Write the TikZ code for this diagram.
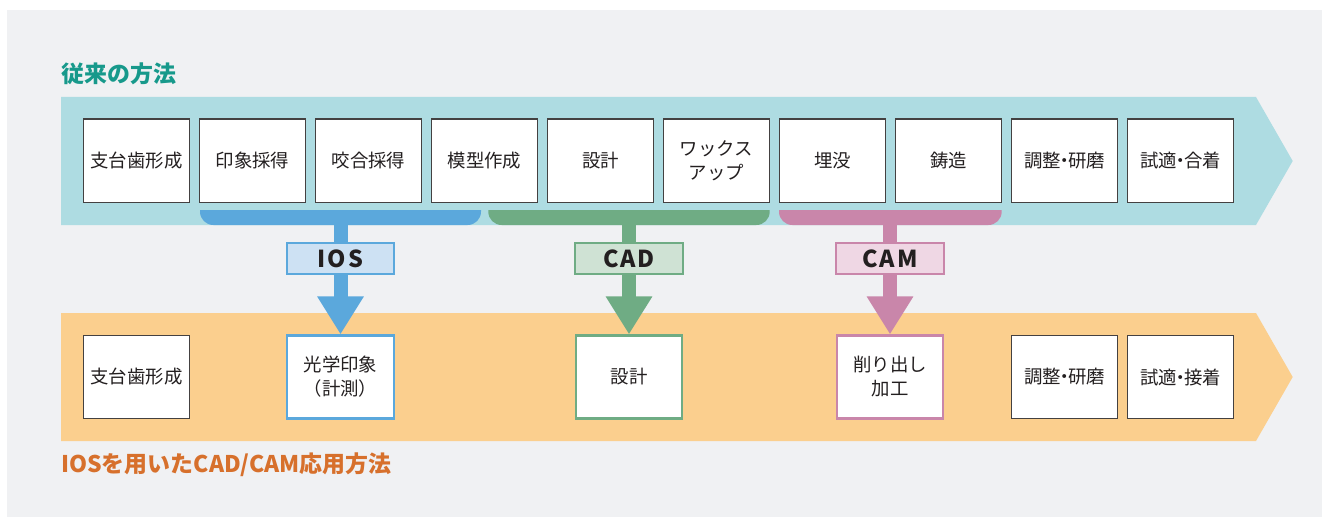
\documentclass[tikz,border=0pt]{standalone}
\usepackage{fontspec}
\newfontfamily\jp{Noto Sans CJK JP}
\newfontfamily\jplab[LetterSpace=8]{Noto Sans CJK JP}
\usetikzlibrary{arrows.meta}
\definecolor{panel}{HTML}{F0F1F3}
\definecolor{teal}{HTML}{AEDCE2}
\definecolor{orng}{HTML}{FBCF8E}
\definecolor{blu}{HTML}{5BA8DC}
\definecolor{blul}{HTML}{CDE1F3}
\definecolor{grn}{HTML}{6FAC84}
\definecolor{grnl}{HTML}{CFE2D4}
\definecolor{pnk}{HTML}{C986AA}
\definecolor{pnkl}{HTML}{EFD7E4}
\definecolor{ttl}{HTML}{17998B}
\definecolor{tto}{HTML}{D7702C}
\definecolor{txt}{HTML}{231F20}
\newcommand{\mdot}{\kern-0.3em・\kern-0.3em}
\tikzset{
  stepbox/.style={draw=txt!85, line width=1pt, fill=white, minimum width=79.9pt, minimum height=62.3pt, inner sep=0pt, align=center, font=\jp\fontsize{13.8}{18}\selectfont, text=txt},
  colbox/.style={stepbox, line width=1.6pt, draw=#1},
  labbox/.style={draw=#1, line width=1.3pt, minimum width=80.5pt, minimum height=23.7pt, inner sep=0pt, font=\jplab\bfseries\fontsize{17.5}{18}\selectfont, text=txt},
  stem/.style={draw=#1, line width=10.5pt},
  bigarrow/.style={draw=#1, line width=10.5pt, -{Triangle[length=28.5pt,width=33pt,fill=#1]}},
  ttitle/.style={anchor=west, inner sep=0pt, font=\jp\bfseries\fontsize{17.2}{18}\selectfont}
}
\begin{document}
\begin{tikzpicture}[x=0.75pt,y=-0.75pt]
\useasboundingbox (0,0) rectangle (1322,517);
\fill[white] (0,0) rectangle (1322,517);
\fill[panel] (7,10) rectangle (1322,517);
% bands
\fill[teal] (61,97) -- (1256,97) -- (1292.7,161) -- (1256,225) -- (61,225) -- cycle;
\fill[orng] (61,313) -- (1256,313) -- (1292.7,377) -- (1256,441) -- (61,441) -- cycle;
% titles
\node[ttitle, text=ttl] (t1) at (61,74) {従来の方法};
\node[ttitle, text=tto] (t2) at (61,465) {IOSを用いたCAD/CAM応用方法};
% bars
\begin{scope}
\clip (0,210) rectangle (1322,226);
\fill[blu, rounded corners=10] (200,190) rectangle (481,225);
\fill[grn, rounded corners=10] (488.3,190) rectangle (769.7,225);
\fill[pnk, rounded corners=10] (779,190) rectangle (1001.7,225);
\end{scope}
% top boxes
\foreach \i/\t in {0/支台歯形成,1/印象採得,2/咬合採得,3/模型作成,4/設計,5/{ワックス\\アップ},6/埋没,7/鋳造,8/調整\mdot 研磨,9/試適\mdot 合着}
  \node[stepbox] (a\i) at ({136.5+116*\i},160.7) {\t};
% bar coordinates
\coordinate (bb) at (340.5,224);
\coordinate (bg) at (629,224);
\coordinate (bp) at (890,224);
% labels
\node[labbox=blu, fill=blul] (ios) at (340.5,258.5) {IOS};
\node[labbox=grn, fill=grnl] (cad) at (629,258.5) {CAD};
\node[labbox=pnk, fill=pnkl] (cam) at (890,258.5) {CAM};
% bottom boxes
\node[stepbox] (b0) at (136.5,377) {支台歯形成};
\node[colbox=blu] (b1) at (340.5,377) {光学印象\\（計測）};
\node[colbox=grn] (b2) at (629,377) {設計};
\node[colbox=pnk] (b3) at (890,377) {削り出し\\加工};
\node[stepbox] (b4) at ({136.5+116*8},377) {調整\mdot 研磨};
\node[stepbox] (b5) at ({136.5+116*9},377) {試適\mdot 接着};
% stems & arrows
\draw[stem=blu] (bb) -- (ios.north);
\draw[stem=grn] (bg) -- (cad.north);
\draw[stem=pnk] (bp) -- (cam.north);
\draw[bigarrow=blu] (ios.south) -- (b1.north);
\draw[bigarrow=grn] (cad.south) -- (b2.north);
\draw[bigarrow=pnk] (cam.south) -- (b3.north);
\end{tikzpicture}
\end{document}
